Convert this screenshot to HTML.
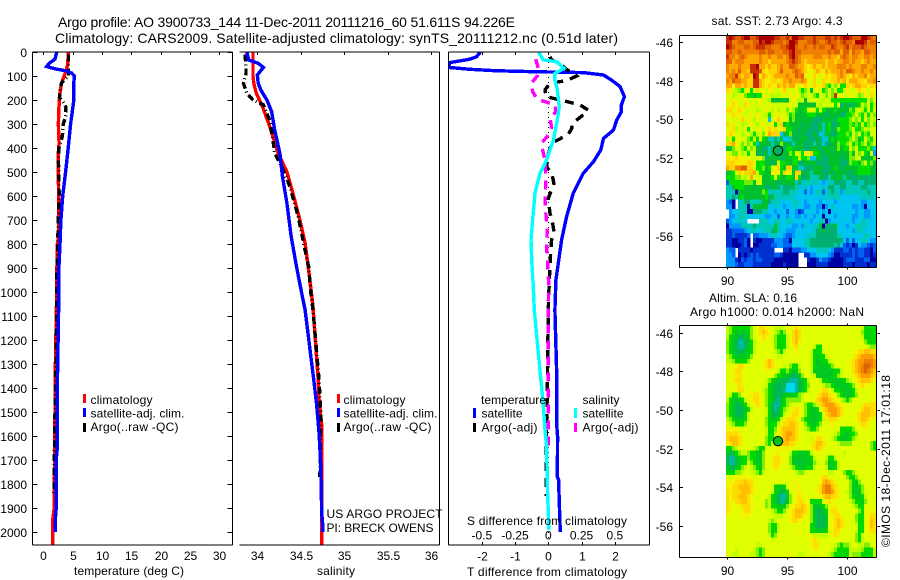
<!DOCTYPE html>
<html lang="en">
<head>
<meta charset="utf-8">
<title>Argo profile 3900733_144</title>
<style>
html,body{margin:0;padding:0;background:#fff;}
#chart{display:block;width:900px;height:580px;}
text{font-family:"Liberation Sans",sans-serif;font-size:12px;fill:#000;}
.title{font-size:14px;}
</style>
</head>
<body>
<svg id="chart" xmlns="http://www.w3.org/2000/svg" width="900" height="580" viewBox="0 0 900 580">
  <defs>
    <clipPath id="clip-p1"><rect x="33" y="52" width="199" height="493"/></clipPath>
    <clipPath id="clip-p2"><rect x="239" y="52" width="201" height="493"/></clipPath>
    <clipPath id="clip-p3"><rect x="448" y="52" width="202" height="493"/></clipPath>
  </defs>
  <rect x="0" y="0" width="900" height="580" fill="#fff"/>
  <text class="title" x="58" y="27" textLength="457" lengthAdjust="spacing">Argo profile: AO 3900733_144 11-Dec-2011 20111216_60 51.611S 94.226E</text>
  <text class="title" x="55" y="43" textLength="563" lengthAdjust="spacing">Climatology: CARS2009. Satellite-adjusted climatology: synTS_20111212.nc (0.51d later)</text>

  <g id="heat-layer"></g>
  <g id="line-layer"></g>
  <g id="axis-layer"></g>

  <text x="74" y="575" textLength="110" lengthAdjust="spacing">temperature (deg C)</text>
  <text x="317" y="575" textLength="38" lengthAdjust="spacing">salinity</text>
  <text x="467" y="576" textLength="160" lengthAdjust="spacing">T difference from climatology</text>
  <text x="467" y="525" textLength="160" lengthAdjust="spacing">S difference from climatology</text>

  <g>
    <rect x="83" y="394" width="3" height="9" fill="#f00"/>
    <text x="90.5" y="404" textLength="62" lengthAdjust="spacing">climatology</text>
    <rect x="83" y="408" width="3" height="9" fill="#00f"/>
    <text x="90.5" y="417.5" textLength="94" lengthAdjust="spacing">satellite-adj. clim.</text>
    <rect x="83" y="423" width="3" height="9" fill="#000"/>
    <text x="90.5" y="431" textLength="88" lengthAdjust="spacing">Argo(..raw -QC)</text>
  </g>
  <g>
    <rect x="337" y="394" width="3" height="9" fill="#f00"/>
    <text x="343.5" y="404" textLength="62" lengthAdjust="spacing">climatology</text>
    <rect x="337" y="408" width="3" height="9" fill="#00f"/>
    <text x="343.5" y="417.5" textLength="94" lengthAdjust="spacing">satellite-adj. clim.</text>
    <rect x="337" y="423" width="3" height="9" fill="#000"/>
    <text x="343.5" y="431" textLength="88" lengthAdjust="spacing">Argo(..raw -QC)</text>
  </g>
  <text x="326.5" y="518" textLength="116" lengthAdjust="spacing">US ARGO PROJECT</text>
  <text x="326.5" y="532" textLength="107" lengthAdjust="spacing">PI: BRECK OWENS</text>

  <g>
    <text x="481" y="404" textLength="65" lengthAdjust="spacing">temperature</text>
    <rect x="473" y="408" width="3" height="10" fill="#00f"/>
    <text x="481.5" y="417.5" textLength="41" lengthAdjust="spacing">satellite</text>
    <rect x="473" y="423" width="3" height="9" fill="#000"/>
    <text x="481.5" y="431.5" textLength="56" lengthAdjust="spacing">Argo(-adj)</text>
    <text x="582.5" y="404" textLength="37" lengthAdjust="spacing">salinity</text>
    <rect x="574" y="408" width="3" height="10" fill="#0ff"/>
    <text x="582.5" y="417.5" textLength="41" lengthAdjust="spacing">satellite</text>
    <rect x="574" y="423" width="3" height="9" fill="#f0f"/>
    <text x="582.5" y="431.5" textLength="56" lengthAdjust="spacing">Argo(-adj)</text>
  </g>

  <text x="711.5" y="25" textLength="131" lengthAdjust="spacing">sat. SST: 2.73 Argo: 4.3</text>
  <text x="709" y="302" textLength="88" lengthAdjust="spacing">Altim. SLA: 0.16</text>
  <text x="690" y="316" textLength="174" lengthAdjust="spacing">Argo h1000: 0.014 h2000: NaN</text>
  <text transform="translate(890 547) rotate(-90)" x="0" y="0" textLength="172" lengthAdjust="spacing">©IMOS 18-Dec-2011 17:01:18</text>
</svg>

<script>
// ---- Axis tick values ----
var depthTicks = [0,100,200,300,400,500,600,700,800,900,1000,1100,1200,1300,1400,1500,1600,1700,1800,1900,2000];
var temperatureTicks = [0,5,10,15,20,25,30];
var salinityTicks = [34,34.5,35,35.5,36];
var salinityTickLabels = ['34','34.5','35','35.5','36'];
var tDiffTicks = [-2,-1,0,1,2];
var sDiffTicks = [-0.5,-0.25,0,0.25,0.5];
var sDiffTickLabels = ['-0.5','-0.25','0','0.25','0.5'];
var lonTicks = [90,95,100];
var latTicks = [-46,-48,-50,-52,-54,-56];

// ---- Temperature panel ----
var tempClimDepth = [0,50,80,110,130,170,200,250,300,350,380,420,500,600,700,790,800,830,880,900,1000,1400,1500,1800,1900,1950,2054];
var tempClimValues = [4.26,4.15,3.87,3.4,3.1,2.85,2.75,2.63,2.58,2.62,2.7,2.55,2.55,2.6,2.6,2.55,2.4,2.4,2.4,2.28,2.28,2.0,2.0,1.88,1.85,1.6,1.6];
var tempSatDepth = [0,30,47,61,70,79,88,100,130,200,220,300,400,500,600,700,800,900,1000,1400,1500,1650,1700,1900,1950,2000];
var tempSatValues = [2.28,2.0,1.0,0.58,2.0,3.98,4.83,5.3,5.2,5.2,5.1,4.65,4.25,3.8,3.3,3.0,2.85,2.65,2.65,2.38,2.38,2.38,2.2,2.2,2.05,2.05];
var tempArgoDepth = [10,20,80,100,120,130,160,190,210,230,270,300,350,380,400,450,500,600,700,800,900,1000,1400,1500,1700,1850];
var tempArgoValues = [4.3,4.3,4.3,4.3,3.4,3.1,2.85,2.75,3.4,3.87,3.8,3.4,3.25,2.93,2.65,2.55,2.65,2.7,2.55,2.45,2.32,2.32,2.1,2.0,1.88,1.8];

// ---- Salinity panel ----
var salClimDepth = [0,100,130,172,228,297,353,422,499,589,700,797,936,1061,1367,1450,1554,1700,2054];
var salClimValues = [33.95,33.95,33.96,33.99,34.06,34.13,34.18,34.24,34.34,34.41,34.49,34.55,34.6,34.64,34.70,34.71,34.74,34.74,34.74];
var salSatDepth = [0,33,47,64,96,130,158,200,249,325,422,519,630,769,894,1005,1075,1367,1464,1589,1728,1922,1964,2000];
var salSatValues = [33.88,33.9,34.01,34.07,34.0,34.01,34.04,34.11,34.165,34.2,34.26,34.29,34.34,34.39,34.45,34.51,34.55,34.65,34.68,34.71,34.73,34.74,34.75,34.75];
var salArgoDepth = [10,68,90,130,172,200,220,283,367,422,478,561,686,811,894,1019,1075,1367,1505,1770];
var salArgoValues = [33.86,33.87,33.87,33.84,33.88,33.95,34.07,34.14,34.18,34.2,34.28,34.375,34.47,34.54,34.59,34.62,34.64,34.71,34.73,34.72];

// ---- Difference panel ----
var diffTSatDepth = [0,20,30,44,64,72,78,82,86,96,117,144,186,221,249,283,325,360,408,457,506,589,686,783,881,950,1075,1325,1547,1603,1769,1783,1880,2000];
var diffTSatValues = [-2.04,-2.16,-2.36,-2.96,-3.0,-2.36,-1.6,-0.45,1.05,1.66,1.9,2.16,2.29,2.2,2.2,2.06,1.96,1.66,1.58,1.36,1.05,0.75,0.55,0.4,0.3,0.23,0.2,0.25,0.25,0.28,0.27,0.31,0.33,0.36];
var diffSSatDepth = [0,33,40,68,89,117,158,228,283,367,450,506,589,700,783,867,978,1075,1325,1464,1575,1644,1839,1992];
var diffSSatValues = [-0.073,-0.038,0.063,0.118,0.05,0.05,0.068,0.083,0.068,0.038,-0.013,-0.063,-0.1,-0.118,-0.13,-0.125,-0.113,-0.105,-0.063,-0.038,-0.025,-0.013,-0.005,0.005];
var diffTArgoDepth = [20,33,47,68,100,119,130,158,186,203,220,242,262,297,320,342,362,380,450,478,506,547,610,672,714,749,783,839,950,1075,1400,1700,1850];
var diffTArgoValues = [0.05,0.1,0.35,0.5,0.85,0.55,0.05,-0.1,-0.07,0.45,0.95,1.2,1.05,0.73,0.7,0.6,0.35,0.1,-0.05,-0.05,0.1,0.17,0,0.05,0.13,0.17,0.1,0.07,0.03,0,-0.03,-0.07,-0.07];
var diffSArgoDepth = [30,68,100,128,165,197,207,221,249,276,314,346,380,408,450,533,617,672,742,811,880,964,1075,1400,1658];
var diffSArgoValues = [-0.095,-0.075,-0.083,-0.125,-0.118,-0.083,-0.025,0.05,0.058,0.013,0.025,0,-0.05,-0.043,-0.025,-0.018,-0.025,-0.018,-0.008,-0.013,-0.005,0.003,0,0,0];

// ---- Float location on the maps ----
var floatLon = [94.226];
var floatLat = [-51.611];

// ---- Maps: colour levels per cell, 50 columns x 48 rows, north to south ----
var sstLevels = [
"IJIHHIJJHH IJJJJJIIHH IHJJIIHHHI HHHIIHIHIJ JIHHHJJIHG",
"IIGGHHGGGH HJIJJIHHHG HJJIGGGHHI HGGHIHHGHI HHGJJJIGHH",
"JIHGGGHHGH IIIHHGGGHH IJJHGGHGGH GHHGGIHGGH IGHHHIHGGG",
"HHGGHGGGGG GHHGHHGGGH HIJHHGGGGG GGGGHGHHFH HFHGGFHHGG",
"IGGFGHGFFF FGFFGFFGGF GIJHGFFFFG GGFFGFFEGH GFGGFFGGFG",
"HHFGGGFFFF FGFFEFFFFF GHIHGFEFFF FFFEFFEFFG GFGFFEFGFF",
"GFFFGFFFII JFFEFEEFGF FHHGFFEDEF EEFEFFFGGG FGFFFGGFFG",
"GFGFHFFEII IHEDEEEFHF FFGHGFEDCE FEDFEFFFGF HHGFFGFFGF",
"FGGIFEFFEJ IDFEDEFFFF GFFHGHDCDE DCDEDEEFGF EDFEFFGEFF",
"GFHGGFFEEI IFEDDEEDEF FGFFFGFDCE CCEDDEEFEF DFFFEEDFFG",
"FFDFFEFEEI IFEDEDDFEF EFFDCDEDCE DDEA9CAC99 EDEFFEEDEE",
"EDCBA9CD9C ECDCDDCCDE DCCDB9AC8C DC9ACAC99C DCCDEDDCDD",
"CDBCCDA998 99DCCBCBCC CDCDCABCCA 9CCACAICDC CDCCABDCEC",
"DCDDCCDCCC CDCCB88888 8CDCBC8CCC CCBCC99999 9999999CAC",
"CDEDCCEDCC CDCCDCCCCC CDCC888888 CBCCCC9C78 87889CAC9B",
"EECDEDCCCC BCCDCBDBCC ACB9889CCC 9C98889888 8A9CCB9C9C",
"DCEDDCCCDC DCCB9CCDCD B9A8888999 8887888877 99ACA9C9CA",
"CDCCDECDCB DCCC5CDEDC C8A8888887 7788887999 9ACAC9CACB",
"ECDCCBCCDC BCDCCD9CE8 9888878877 7868977899 9A9A9C9ACA",
"CDEBCCD9CC DCCDEDECDE 9988788777 7868978A99 9AC99ACBCC",
"DEDCCBCCB9 CCADFEEE58 8A87887778 7568877999 A9CAC9A9CC",
"BC9CDCCA9C 9C98667685 5687888777 8765898999 9ACA89CA9C",
"EEFDCACAC9 68888678A8 8768887786 7857788A99 AC9A9AC9AC",
"88ACCA9CAC 8877688887 9988887788 8788888A89 9CAC999A95",
"CCAACBC9CC 7878688888 8A9CC9DDE9 9878888888 8A8CAC98C4",
"DDDEDDCDCC CDA7888878 8899C99A55 8877888878 8AACC8888A",
"EEEDDDDEED 9998878C99 8899778888 7777888877 7A998AC9A8",
"FEEGGHHEEC 99A89CDE98 EE88667778 8877789878 8888999988",
"889CEDEEEF C9988DDD9E DC8EE87868 8877878888 7788999988",
"999AACBCFC CC8889C988 998E977866 6877688886 8777877777",
"399999AAA8 CC88888788 8886766666 6545667777 6677667777",
"6689998888 8887788767 7786656545 5565776677 6666677666",
"6661888888 88A9666667 7666553545 6636676646 6666666766",
"6676898888 8889786666 6665555555 5565666655 5555566666",
"431.667766 6688766655 5566554555 5455554555 5555544555",
"441.666168 8888556554 5556554455 4414565555 5544541555",
".455666117 7766554555 3554235555 4545155555 5554554455",
".445666555 5554455355 4554454554 5515554555 5544554455",
"3455665... .666556655 6655555545 5661455555 5545566555",
"1444466667 6666668655 5544546556 6817778555 4556666555",
"2233334566 5566678655 4445555556 7787777555 5546665555",
"22322223.3 3444566554 3345555666 7777777665 5555556655",
"22112231.2 1122224443 3155556677 7777777775 3535566544",
"22111231.1 1222233443 3355556677 7777776753 2312544323",
"433.222212 222222...2 2133344555 6666542223 3232332213",
"443.121232 3222223321 1111..2244 5555431122 2232332212",
"4442132332 3322221111 1111...211 2433211112 3332223311",
"4443223332 2222211112 1111...111 2222111112 2212222122"
];
var slaLevels = [
"BA999999AC CEEDCCBBBC CCDEDCCCCC CCCCCCCCCC CCCCCB9999",
"BA988889AC CEFEDCBA9A CCEFECCCCC CCCCCCCCCC CCCCCA9899",
"B9887788AC CDEDCCA999 BCEFECCCCC CCCCCCCCCC CCCCCB9899",
"A98766789B CCDCCCA999 BCEFDCCCCC CCCCCCCCCC CCCCCCA999",
"A98766789B CCCCCCA999 BCDECCCCCB 99CCCCCCCC CCCCCCCBAA",
"A98777889B CCCCCCBA9B CCDDCCCCB9 99BCCCCCCC CCCDEEFFEE",
"BA988889AC CCCCCCCBBC CCCCCCCCB9 899BCCCCCC CCDEFGGGGF",
"BBA9999ACC CCCEFECCCC CCCCCCCCB9 8899BCCCCC CDEFGGHHHG",
"CCCDEECCCC CCDEFEDCCB CA99BCCCB9 88889ACCCC CDEFGHIIHG",
"CCDEEDCCCC CCCDDCCB99 A988ACCCB8 88888899BC CCEFGHIHGF",
"CCCDEDCCCC CCCCCCA998 87778ACCCB 8888889ABC CCDEFGGGFE",
"CCDEEDCCCC CCCBA98877 7666789BCC CB99888889 ABCDEFFFED",
"CCCDEDCCCC CCCB987777 5556789ACC CCBAA98888 89ACDEDDCC",
"CCCDEECCCC CCBA987776 5556789BCC CDEECB9988 889BCCCCCC",
"CB99ACCDDE ECCA987778 8889ABCCCC DEFFEDCA98 889ACCCCCC",
"B98889BCDE EDCA987689 AAAAABCCCD EFGGFEDCBA 9ACCCCCCCD",
"A987789BCD EDCA976689 ABCCCCA99A BEFGGGFEDC CCCCCDEEEE",
"A9877789BC CCCB97679A BCDEDCA988 9CEFGGGFED CCCCDEFFEE",
"A987779BCC CCCB97779B CDEEDCA988 89CEFGGFEC CCCDEFFFEE",
"BA98889BCC CCCA9889BD EEEDCA9888 89BDEEEDCC CCCDEFFEDC",
"CBA999ACCC CCCA999BDE EFFEDCA988 9ACCDDCCCC CCCCDEEDCC",
"DDDDCCCCCC CCCB99ACEF FFFEDCBA99 ACCCCCCC99 99ACCDDCCC",
"EEEEDCCCCC CCCB99BDEF GGFEDCCCCC CCCCCCBA98 899ACCCCCC",
"EFFFEDCCCC CCCA99BDEF GFFEDCCCBD EEDCCBA988 89ABCCCCCC",
"DEFFEDCCCC CCCA9BCDEF FEEDCCCCDE FFEDCCCBAA AACCCCCCA9",
"99ABCCCCCB A99CCCCDDD DDCCCCCCDE FEDCCCCCCC CCCCCCCCA9",
"8789ABBA99 88ACCCDDCC CB998889BC CDCCCCCCCB CCCCCCCCCC",
"7668899A99 88ACCDEEDC CA8888889B CCCB99BCCC CCCCCCCCCC",
"7667899BA9 88ACCDEEDC CA8878888A BCCA889BCC CCCCCCCCCC",
"87789ABCBA 98ACCDEDCC CBA988899B CCCB889BCC CCCCCCCCCC",
"999AABCCBB A9BCCCDCCC CCCBAABCCC CCCCBBCCCA 99ACCCCCCC",
"CCCDDDDDCC CCCCCCCCCC CCCCCCCCCC CDEECCCCCC A99ACCCCCC",
"DDDEEEFEED CCCCCCCCCC CCDDCCCCCC CDFGFEDCCC CA98ACCCCC",
"DDEEFFFFED CCCCCC9889 CCCDDCCCCC DEGHHFEDCC CA889ACCCC",
"EDEEEFFFED CCCCCB9877 9CCDDCCCCC DEGHHGEDCC BA888ACCCC",
"EDEEFFFEDC CCCCB98766 8ACDEDCCCC CDEFFEEDCC CA9889BCCC",
"EDDEEFFEDC CCCAB98767 8ACDEEDC99 99CDEDCCCC CBA998ACCC",
"EDCDDEEEDC CCCAB99888 ACDEEFEDA8 889ACDDCCC CCBA99CCCC",
"EDCCCDEEDC CCCCCBA99A CDEFFFEDA8 7789CEEDCC CCCCA9CDDC",
"DCCCCDDDCC CCCCCCBBBC CDEFFEDCA8 7778CDEEDC CCCA99CDEE",
"CCCCCCCCCC CCCCBABCCC CDEEDCCCA8 7778CDEFED CCCA99CDFE",
"CCCCCCCCCC CCCCA99BCC CCCCCCCC98 7778CDEFED CCCB99CDFE",
"CCCCCCCCCC CCCCA99BCC CCCDCCCC99 8889CDEEDC CCCB99CDEE",
"CCCCCCCCCC CCCCB9ACCC CCCCCCCCCB BBBBCDEDCC CCCA9BCDDC",
"CCCCCCCCCC CCCCCBCCCC CCCCCCCCDE DCCCCCCCCC CCCA9BCCCC",
"CCCCCCCCCC BBCCCCCCCC CCCCCCCCDE ECCCCCBA9A ABCCBBAACC",
"CCCBCCCCCB A9ACCCCCCC CCCCCCCCCD DCCCCBA999 9BBBBA999B",
"CCBBCCCCBB A9ACCCCCCC CCCCBBCCCC CCCCBA9999 9BAAA9999B"
];
var levelCodes = "123456789ABCDEFGHIJ";
var sstColors = ['#0000a0','#0030d0','#0060f0','#0098ff','#00c4f0','#00c8b8','#00b070','#00c030','#00e000','#70f000','#a8ff00','#d0ff00','#f6f000','#ffd400','#ffa800','#f08000','#e06000','#c83000','#a80000'];
var slaColors = ['#0000a0','#0030d0','#0060f0','#0098ff','#00d8f0','#00b8a0','#00b850','#00c820','#00d800','#80f000','#c0ff00','#e0ff00','#f0f400','#ffdc00','#ffc000','#fc9c00','#ee8000','#dc6400','#d05000'];

// ---- Axis functions ----
var SVGNS = 'http://www.w3.org/2000/svg';
function yDepth(d){ return 52 + d * 0.24; }
function xTemp(v){ return 43.3 + v * 5.87; }
function xSal(v){ return 257.3 + (v - 34) * 87; }
function xTDiff(v){ return 548.3 + v * 33.25; }
function xSDiff(v){ return 548.3 + v * 133; }
function xLon(v){ return 727.3 + (v - 90) * 12; }
function ySstLat(v){ return 42 + (-46 - v) * 19.37; }
function ySlaLat(v){ return 332.5 + (-46 - v) * 19.37; }

var lineLayer = document.getElementById('line-layer');
var axisLayer = document.getElementById('axis-layer');
var heatLayer = document.getElementById('heat-layer');

function drawHeat(rows, colors, left, top, cw, ch, mapName){
  var g = document.createElementNS(SVGNS, 'g');
  
  
  rows.forEach(function(raw, r){
    var row = raw.replace(/ /g, '');
    for (var c = 0; c < 50 && c < row.length; c++){
      var idx = levelCodes.indexOf(row.charAt(c));
      if (idx < 0) continue;
      var cell = document.createElementNS(SVGNS, 'rect');
      
      
      cell.setAttribute('x', left + c * cw);
      cell.setAttribute('y', (top + r * ch).toFixed(2));
      cell.setAttribute('width', cw + 0.3);
      cell.setAttribute('height', (ch + 0.3).toFixed(2));
      cell.setAttribute('fill', colors[idx]);
      cell.setAttribute('shape-rendering', 'crispEdges');
      g.appendChild(cell);
    }
  });
  heatLayer.appendChild(g);
}

function drawLine(depths, values, xFn, color, dash, clip, lineName){
  var pts = depths.map(function(d, i){ return xFn(values[i]).toFixed(1) + ',' + yDepth(d).toFixed(1); }).join(' ');
  var p = document.createElementNS(SVGNS, 'polyline');
  
  
  p.setAttribute('points', pts);
  p.setAttribute('fill', 'none');
  p.setAttribute('stroke', color);
  p.setAttribute('stroke-width', '3.4');
  p.setAttribute('shape-rendering', 'crispEdges');
  p.setAttribute('clip-path', 'url(#' + clip + ')');
  if (dash) p.setAttribute('stroke-dasharray', dash);
  lineLayer.appendChild(p);
}

function seg(x1, y1, x2, y2, segName){
  var l = document.createElementNS(SVGNS, 'line');
  
  
  l.setAttribute('x1', x1);
  l.setAttribute('y1', y1);
  l.setAttribute('x2', x2);
  l.setAttribute('y2', y2);
  l.setAttribute('stroke', '#000');
  l.setAttribute('stroke-width', '1');
  l.setAttribute('shape-rendering', 'crispEdges');
  axisLayer.appendChild(l);
}

function label(str, x, y, anchor, labelName){
  var t = document.createElementNS(SVGNS, 'text');
  
  
  t.setAttribute('x', x);
  t.setAttribute('y', y);
  t.setAttribute('text-anchor', anchor);
  t.textContent = str;
  axisLayer.appendChild(t);
}

// ---- Heatmaps ----
drawHeat(sstLevels, sstColors, 726, 35, 3, 232 / 48, 'sst-heatmap');
drawHeat(slaLevels, slaColors, 726, 325, 3, 232 / 48, 'sla-heatmap');

// ---- Series ----
drawLine(tempClimDepth, tempClimValues, xTemp, '#f00', null, 'clip-p1', 'temperature-climatology-line');
drawLine(tempArgoDepth, tempArgoValues, xTemp, '#000', '7 3 1 3', 'clip-p1', 'temperature-argo-line');
drawLine(tempSatDepth, tempSatValues, xTemp, '#00f', null, 'clip-p1', 'temperature-satellite-line');

drawLine(salClimDepth, salClimValues, xSal, '#f00', null, 'clip-p2', 'salinity-climatology-line');
drawLine(salArgoDepth, salArgoValues, xSal, '#000', '7 3 1 3', 'clip-p2', 'salinity-argo-line');
drawLine(salSatDepth, salSatValues, xSal, '#00f', null, 'clip-p2', 'salinity-satellite-line');

var zeroLine = document.createElementNS(SVGNS, 'line');


zeroLine.setAttribute('x1', xTDiff(0));
zeroLine.setAttribute('x2', xTDiff(0));
zeroLine.setAttribute('y1', 52);
zeroLine.setAttribute('y2', 545);
zeroLine.setAttribute('stroke', '#000');
zeroLine.setAttribute('stroke-dasharray', '1 4');
zeroLine.setAttribute('shape-rendering', 'crispEdges');
lineLayer.appendChild(zeroLine);

drawLine(diffTSatDepth, diffTSatValues, xTDiff, '#00f', null, 'clip-p3', 'difference-t-satellite-line');
drawLine(diffTArgoDepth, diffTArgoValues, xTDiff, '#000', '9 7', 'clip-p3', 'difference-t-argo-line');
drawLine(diffSArgoDepth, diffSArgoValues, xSDiff, '#f0f', '9 7', 'clip-p3', 'difference-s-argo-line');
drawLine(diffSSatDepth, diffSSatValues, xSDiff, '#0ff', null, 'clip-p3', 'difference-s-satellite-line');

// ---- Panel frames ----
seg(32.5, 52, 232.5, 52, 'panel-1-top-axis');
seg(32.5, 545, 232.5, 545, 'panel-1-bottom-axis');
seg(32.5, 52, 32.5, 545, 'panel-1-left-axis');
seg(232.5, 52, 232.5, 545, 'panel-1-right-axis');
seg(239.5, 52, 439.5, 52, 'panel-2-top-axis');
seg(239.5, 545, 439.5, 545, 'panel-2-bottom-axis');
seg(439.5, 52, 439.5, 545, 'panel-2-right-axis');
seg(448.5, 52, 649.5, 52, 'panel-3-top-axis');
seg(448.5, 545, 649.5, 545, 'panel-3-bottom-axis');
seg(448.5, 52, 448.5, 545, 'panel-3-left-axis');
seg(649.5, 52, 649.5, 545, 'panel-3-right-axis');

// ---- Depth ticks and labels ----
depthTicks.forEach(function(d){
  var y = Math.round(yDepth(d)) + 0.5;
  seg(32.5, y, 37.5, y, 'depth-tick');
  seg(227.5, y, 232.5, y, 'depth-tick');
  label(String(d), 27, y + 4.5, 'end', 'depth-tick-label');
});

// ---- X ticks ----
temperatureTicks.forEach(function(v){
  var x = Math.round(xTemp(v)) + 0.5;
  seg(x, 52, x, 55, 'temperature-tick');
  label(String(v), x, 560, 'middle', 'temperature-tick-label');
});
salinityTicks.forEach(function(v, i){
  var x = Math.round(xSal(v)) + 0.5;
  seg(x, 52, x, 55, 'salinity-tick');
  label(salinityTickLabels[i], x, 560, 'middle', 'salinity-tick-label');
});
tDiffTicks.forEach(function(v){
  var x = Math.round(xTDiff(v)) + 0.5;
  seg(x, 52, x, 55, 't-difference-tick');
  seg(x, 542, x, 545, 't-difference-tick');
  label(String(v), x, 560.5, 'middle', 't-difference-tick-label');
});
sDiffTicks.forEach(function(v, i){
  label(sDiffTickLabels[i], xSDiff(v), 539.5, 'middle', 's-difference-tick-label');
});

// ---- Map frames and ticks ----
function drawMapAxes(top, bottom, yFn, prefix, labelY){
  seg(679.5, top, 876.5, top, prefix + '-top-axis');
  seg(679.5, bottom, 876.5, bottom, prefix + '-bottom-axis');
  seg(679.5, top, 679.5, bottom, prefix + '-left-axis');
  seg(876.5, top, 876.5, bottom, prefix + '-right-axis');
  lonTicks.forEach(function(v){
    var x = Math.round(xLon(v)) + 0.5;
    seg(x, top - 2, x, top, prefix + '-longitude-tick');
    seg(x, bottom, x, bottom + 2, prefix + '-longitude-tick');
    label(String(v), x, labelY, 'middle', prefix + '-longitude-label');
  });
  latTicks.forEach(function(v){
    var y = Math.round(yFn(v)) + 0.5;
    seg(679.5, y, 683, y, prefix + '-latitude-tick');
    seg(877.5, y, 880, y, prefix + '-latitude-tick');
    label(String(v), 673, y + 4.5, 'end', prefix + '-latitude-label');
  });
}
drawMapAxes(35.5, 267.5, ySstLat, 'sst-map', 285);
drawMapAxes(325.5, 557.5, ySlaLat, 'sla-map', 575);

// ---- Float markers ----
function drawFloat(yFn, fill, markerName){
  var c = document.createElementNS(SVGNS, 'circle');
  
  
  c.setAttribute('cx', xLon(floatLon[0]));
  c.setAttribute('cy', yFn(floatLat[0]));
  c.setAttribute('r', 4.7);
  c.setAttribute('fill', fill);
  c.setAttribute('stroke', '#000');
  c.setAttribute('stroke-width', '1');
  axisLayer.appendChild(c);
}
drawFloat(ySstLat, '#00b060', 'sst-float-marker');
drawFloat(ySlaLat, '#00c020', 'sla-float-marker');
</script>
</body>
</html>
